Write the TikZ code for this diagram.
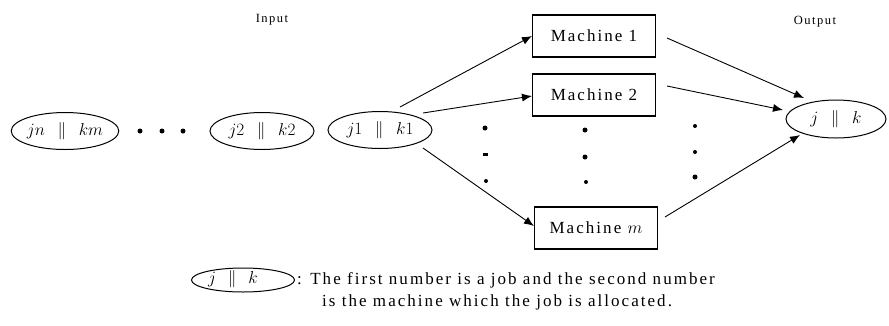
\documentclass[tikz,border=0pt]{standalone}
\usepackage{fontspec}
\setmainfont{Liberation Serif}[LetterSpace=12]
\usetikzlibrary{arrows.meta,shapes.geometric}
\tikzset{
  job/.style={draw, ellipse, line width=1pt, minimum width=104pt, minimum height=37pt, inner sep=0pt, font=\fontsize{17}{19}\selectfont},
  machine/.style={draw, rectangle, line width=1.1pt, minimum width=123pt, minimum height=42pt, inner sep=0pt, font=\fontsize{17}{19}\selectfont},
  link/.style={line width=0.9pt, -{Latex[length=10pt,width=8pt]}},
  dotmark/.style={fill=black},
  caption/.style={font=\fontsize{12.5}{14}\selectfont, anchor=base},
  legendtext/.style={font=\fontsize{17}{19}\selectfont, anchor=west, inner sep=0pt}
}
\newcommand{\pairlabel}[2]{$#1\ \ \|\ \ #2$}
\begin{document}
\begin{tikzpicture}[x=1pt,y=-1pt]
  \useasboundingbox (0,0) rectangle (889,325);
  % input queue
  \node[job] (jn) at (65,131) {\pairlabel{jn}{km}};
  \node[job] (j2) at (262,131) {\pairlabel{j2}{k2}};
  \node[job] (j1) at (380,130) {\pairlabel{j1}{k1}};
  \foreach \x in {140,162,183} \fill[dotmark] (\x,131) circle (2.5);
  % machines
  \node[machine] (m1) at (594,36) {Machine 1};
  \node[machine] (m2) at (594,95) {Machine 2};
  \node[machine] (mm) at (596,228) {Machine $m$};
  % vertical ellipsis between machines
  \fill[dotmark] (485,128) circle (2.5);
  \fill[dotmark] (482.5,152.5) rectangle (487.5,155.5);
  \fill[dotmark] (486,181) circle (2);
  \foreach \y in {130,157} \fill[dotmark] (585,\y) circle (2.5);
  \fill[dotmark] (586,182) circle (2);
  \foreach \y in {126,152} \fill[dotmark] (695,\y) circle (2);
  \fill[dotmark] (695,177) circle (2.5);
  % output
  \node[job, minimum width=100pt, minimum height=38pt] (out) at (836,119) {\pairlabel{j}{k}};
  % captions
  \node[caption] (inlbl) at (272,22) {Input};
  \node[caption] (outlbl) at (815,24) {Output};
  % connectors
  \coordinate (s1) at (400,107);
  \coordinate (s2) at (423,113);
  \coordinate (s3) at (423,148);
  \draw[link] (s1) -- (m1.west);
  \draw[link] (s2) -- ([yshift=-1pt]m2.west);
  \draw[link] (s3) -- ([yshift=2pt]mm.west);
  \coordinate (t1) at (667,38);
  \coordinate (t2) at (667,86);
  \coordinate (t3) at (665,217);
  \draw[link] (t1) -- (804,98);
  \draw[link] (t2) -- (783,110);
  \draw[link] (t3) -- (800,135);
  % legend: key ellipse with its label set a little left of centre
  \node[job, minimum width=103pt, minimum height=24pt] (key) at (243,280) {};
  \node[font=\fontsize{16}{18}\selectfont, inner sep=0pt] (keylbl) at (233,279) {$j\ \ \|\ \ k$};
  \node[legendtext] (keytext) at (297,280) {: The first number is a job and the second number};
  \node[legendtext] (keytext2) at (322,302) {is the machine which the job is allocated.};
\end{tikzpicture}
\end{document}
